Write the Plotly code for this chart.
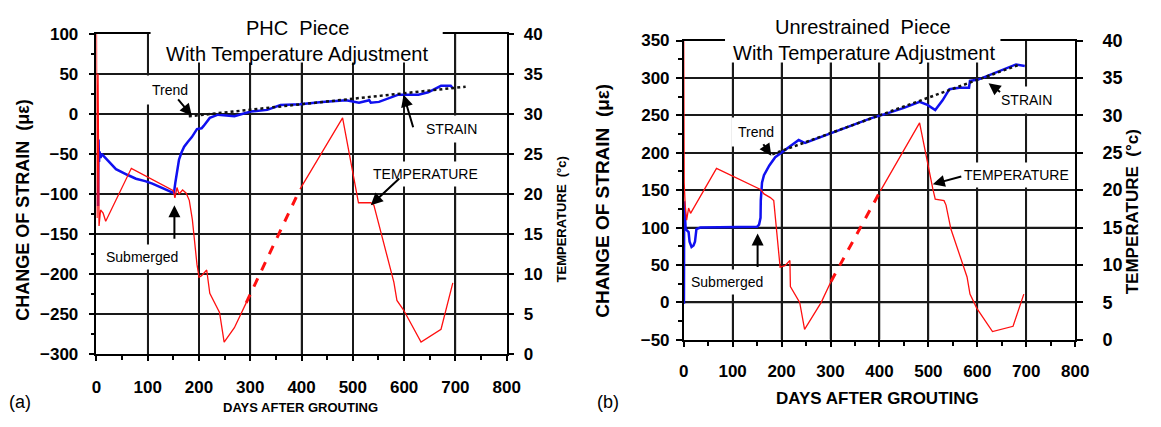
import plotly.graph_objects as go

# ---------------- Panel (a): PHC piece ----------------
a_strain_days = [3, 4, 5, 6, 8, 10, 13, 20, 38, 60, 77, 95, 109, 130, 151, 154, 158, 161, 166, 171,
                 178, 186, 196, 205, 209, 221, 237, 269, 301, 333, 359, 397, 440, 487, 512, 532, 535,
                 551, 589, 628, 647, 672, 691, 695]
a_strain = [-115, -32, -60, -47, -55, -50, -52, -58, -69, -76, -81, -84, -87, -93, -99, -85, -70, -57, -48, -41,
            -35, -29, -19, -18, -15, -5, -1, -3, 3, 5, 11, 12, 15, 17, 14, 17, 14,
            15, 24, 24, 27, 35, 35, 32]
a_trend_days = [180, 720]
a_trend = [-3, 34]
a_temp_days = [0, 1, 3, 5, 8, 13, 18, 68, 150, 153, 157, 161, 168, 175, 181, 187, 196, 200, 205, 215,
               221, 231, 240, 249, 269, 292]
a_temp = [40, 17, 35, 16, 18, 17.6, 16.6, 23.2, 20.4, 19.5, 20.8, 20.0, 20.5, 20.1, 19.2, 16.8, 11.2, 9.6, 9.8, 10.5,
          7.6, 6.4, 5.2, 1.5, 3.3, 6.4]
a_temp_gap_days = [292, 397]
a_temp_gap = [6.4, 20.6]
a_temp_late_days = [397, 480, 511, 535, 541, 557, 580, 586, 599, 633, 672, 695]
a_temp_late = [20.6, 29.5, 18.9, 18.9, 18.6, 14.8, 9.0, 6.7, 5.5, 1.5, 3.1, 8.9]

# ---------------- Panel (b): Unrestrained piece ----------------
b_strain_days = [0, 0.5, 1, 2, 4, 10, 12, 16, 20, 23, 26, 34, 60, 100, 141, 150, 154, 157, 157.5, 160,
                 164, 175, 187, 207, 225, 235, 248, 281, 342, 382, 408, 450, 482, 498, 514, 529, 543,
                 563, 583, 585, 603, 643, 679, 697]
b_strain = [0, 0, 135, 124, 98, 94, 81, 74, 76, 81, 98, 100, 100, 100, 100, 101, 104, 113, 136, 160,
            170, 183, 194, 204, 212, 217, 213, 221, 236, 246, 251, 260, 268, 264, 257, 270, 285,
            287, 287, 296, 298, 308, 318, 316]
b_trend_days = [181, 683]
b_trend = [198, 317]
b_temp_days = [0, 1, 3, 6, 10, 14, 67, 157, 164, 177, 184, 186, 197, 207, 217, 218, 237, 247, 281, 301]
b_temp = [40, 21, 18, 16, 17.6, 16.9, 22.9, 20.1, 19.5, 19.0, 18.6, 17.3, 9.7, 9.9, 10.6, 7.1, 5.0, 1.4, 5.0, 7.8]
b_temp_gap_days = [301, 402]
b_temp_gap = [7.8, 19.9]
b_temp_late_days = [402, 482, 509, 514, 532, 536, 546, 579, 585, 599, 631, 673, 695]
b_temp_late = [19.9, 29.0, 20.2, 18.8, 18.6, 18.0, 14.8, 8.4, 6.1, 4.2, 1.1, 1.8, 6.1]

x_ticks = list(range(0, 801, 100))
a_strain_ticks = list(range(-300, 101, 50))
b_strain_ticks = list(range(-50, 351, 50))
temp_ticks = list(range(0, 41, 5))

W, H = 1161, 427
FONT = "Liberation Sans, Arial, sans-serif"
BLUE = "#1010f0"
RED = "#ff1010"
GRID = "#1a1a1a"
GW = 1.6


def px(x):
    return x / W


def py(y):
    return 1 - y / H


fig = go.Figure()

for (td, tv, gd, gv, ld, lv, sd, sv, trd, trv, xa, ys, yt, yticks) in [
    (a_temp_days, a_temp, a_temp_gap_days, a_temp_gap, a_temp_late_days, a_temp_late,
     a_strain_days, a_strain, a_trend_days, a_trend, "x", "y", "y2", a_strain_ticks),
    (b_temp_days, b_temp, b_temp_gap_days, b_temp_gap, b_temp_late_days, b_temp_late,
     b_strain_days, b_strain, b_trend_days, b_trend, "x2", "y3", "y4", b_strain_ticks),
]:
    # grid lines, one trace per tick
    for xv in x_ticks[1:-1]:
        fig.add_trace(go.Scatter(x=[xv, xv], y=[yticks[0], yticks[-1]], xaxis=xa, yaxis=ys,
                                 mode="lines", hoverinfo="skip", showlegend=False,
                                 line=dict(color=GRID, width=GW, simplify=False)))
    for v in yticks[1:-1]:
        fig.add_trace(go.Scatter(x=[x_ticks[0], x_ticks[-1]], y=[v, v], xaxis=xa, yaxis=ys,
                                 mode="lines", hoverinfo="skip", showlegend=False,
                                 line=dict(color=GRID, width=GW, simplify=False)))
    fig.add_trace(go.Scatter(x=sd, y=sv, xaxis=xa, yaxis=ys, mode="lines",
                             line=dict(color=BLUE, width=2.5), showlegend=False))
    fig.add_trace(go.Scatter(x=trd, y=trv, xaxis=xa, yaxis=ys, mode="lines",
                             line=dict(color="#111111", width=2.5, dash="dot"), showlegend=False))
    fig.add_trace(go.Scatter(x=td, y=tv, xaxis=xa, yaxis=yt, mode="lines",
                             line=dict(color=RED, width=1.3), showlegend=False))
    fig.add_trace(go.Scatter(x=gd, y=gv, xaxis=xa, yaxis=yt, mode="lines",
                             line=dict(color=RED, width=3, dash="dash"), showlegend=False))
    fig.add_trace(go.Scatter(x=ld, y=lv, xaxis=xa, yaxis=yt, mode="lines",
                             line=dict(color=RED, width=1.3), showlegend=False))

tickfont = dict(family=FONT, size=17, color="black", weight="bold")


def xaxis_cfg(domain, anchor, standoff):
    return dict(domain=domain, anchor=anchor, range=[0, 800], tickmode="array", tickvals=x_ticks,
                showgrid=True, gridcolor=GRID, gridwidth=GW, showline=True, linecolor="black",
                linewidth=1.5, mirror=True,
                ticks="outside", ticklen=5, tickcolor="black", tickwidth=1.5, zeroline=False,
                tickfont=tickfont, ticklabelstandoff=standoff,
                minor=dict(dtick=50, tick0=0, ticks="outside", ticklen=4, tickcolor="black", showgrid=False))


def strain_cfg(domain, anchor, rng, vals, standoff):
    return dict(domain=domain, anchor=anchor, range=rng, tickmode="array", tickvals=vals,
                showgrid=True, gridcolor=GRID, gridwidth=GW, showline=True, linecolor="black",
                linewidth=1.5, ticks="outside",
                ticklen=6, tickcolor="black", tickwidth=1.5, zeroline=False, tickfont=tickfont,
                ticklabelstandoff=standoff,
                minor=dict(dtick=25, tick0=0, ticks="outside", ticklen=4, tickcolor="black", showgrid=False))


def temp_cfg(over, anchor, size, standoff):
    return dict(overlaying=over, anchor=anchor, side="right", range=[0, 40], tickmode="array",
                tickvals=temp_ticks, showgrid=False, showline=True, linecolor="black", linewidth=1.5,
                ticks="outside", ticklen=6, tickcolor="black", tickwidth=1.5, zeroline=False,
                tickfont=dict(family=FONT, size=size, color="black", weight="bold"),
                ticklabelstandoff=standoff)


fig.update_layout(
    width=W, height=H,
    margin=dict(l=0, r=0, t=0, b=0),
    paper_bgcolor="white", plot_bgcolor="white",
    showlegend=False,
    xaxis=xaxis_cfg([px(93), px(510)], "y", 12),
    yaxis=strain_cfg([py(361), py(25)], "x", [-300, 100], a_strain_ticks, 7),
    yaxis2=temp_cfg("y", "x", 17, 6),
    xaxis2=xaxis_cfg([px(690), px(1088)], "y3", 10),
    yaxis3=strain_cfg([py(346), py(32)], "x2", [-50, 350], b_strain_ticks, 3),
    yaxis4=temp_cfg("y3", "x2", 18, 16),
)

# white boxes behind the panel titles
shapes = []
for x0, x1, y0, y1 in [(148, 445, 18, 55), (732, 1012, 24, 55)]:
    shapes.append(dict(type="rect", xref="paper", yref="paper", x0=px(x0), x1=px(x1), y0=py(y1), y1=py(y0),
                       fillcolor="white", line=dict(width=0), layer="above"))
fig.update_layout(shapes=shapes)

ann = []


def text(x, y, s, size, bold=False, angle=0, bg=None, pad=1, color="black"):
    f = dict(family=FONT, size=size, color=color)
    if bold:
        f["weight"] = "bold"
    d = dict(x=px(x), y=py(y), xref="paper", yref="paper", text=s, showarrow=False, font=f,
             xanchor="center", yanchor="middle", textangle=angle, borderpad=pad)
    if bg:
        d["bgcolor"] = bg
    ann.append(d)


def arrow(xr, yr, x, y, ax, ay):
    ann.append(dict(x=x, y=y, xref=xr, yref=yr, ax=ax, ay=ay, axref="pixel", ayref="pixel", text="",
                    showarrow=True, arrowhead=2, arrowsize=1.2, arrowwidth=2, arrowcolor="black"))


# titles
text(297, 19, "PHC  Piece", 20)
text(297, 46, "With Temperature Adjustment", 20)
text(872, 18, "Unrestrained  Piece", 20)
text(873, 45, "With Temperature Adjustment", 20)

# axis titles
text(18, 210, "CHANGE OF STRAIN  (με)", 18, bold=True, angle=-90)
text(566, 220, "TEMPERATURE  (°c)", 13, bold=True, angle=-90)
text(300, 417, "DAYS AFTER GROUTING", 13, bold=True)
text(608, 200, "CHANGE OF STRAIN  (με)", 19, bold=True, angle=-90)
text(1146, 212, "TEMPERATURE  (°c)", 17, bold=True, angle=-90)
text(887, 408, "DAYS AFTER GROUTING", 17, bold=True)
text(15, 411, "(a)", 18)
text(613, 411, "(b)", 18)

# panel (a) labels and arrows
text(168, 84, "Trend", 14, bg="white", pad=6)
text(454, 125, "STRAIN", 14, bg="white", pad=5)
text(428, 172, "TEMPERATURE", 14, bg="white", pad=4)
text(139, 259, "Submerged", 14, bg="white", pad=4)
arrow("x", "y", 186, -2.4, -15, -18)
arrow("x", "y", 599, 24, 10, 34)
arrow("x", "y", 535, -114, 30, -28)
arrow("x", "y", 152, -114, 0, 35)

# panel (b) labels and arrows
text(763, 128, "Trend", 14, bg="white", pad=6)
text(1038, 94, "STRAIN", 14, bg="white", pad=5)
text(1028, 173, "TEMPERATURE", 14, bg="white", pad=4)
text(734, 285, "Submerged", 14, bg="white", pad=4)
arrow("x2", "y3", 179, 196, -9, -13)
arrow("x2", "y3", 623, 293, 13, 10)
arrow("x2", "y3", 509, 158, 30, -8)
arrow("x2", "y3", 151, 92, 0, 35)

fig.update_layout(annotations=ann)
fig.write_html("out.html")
